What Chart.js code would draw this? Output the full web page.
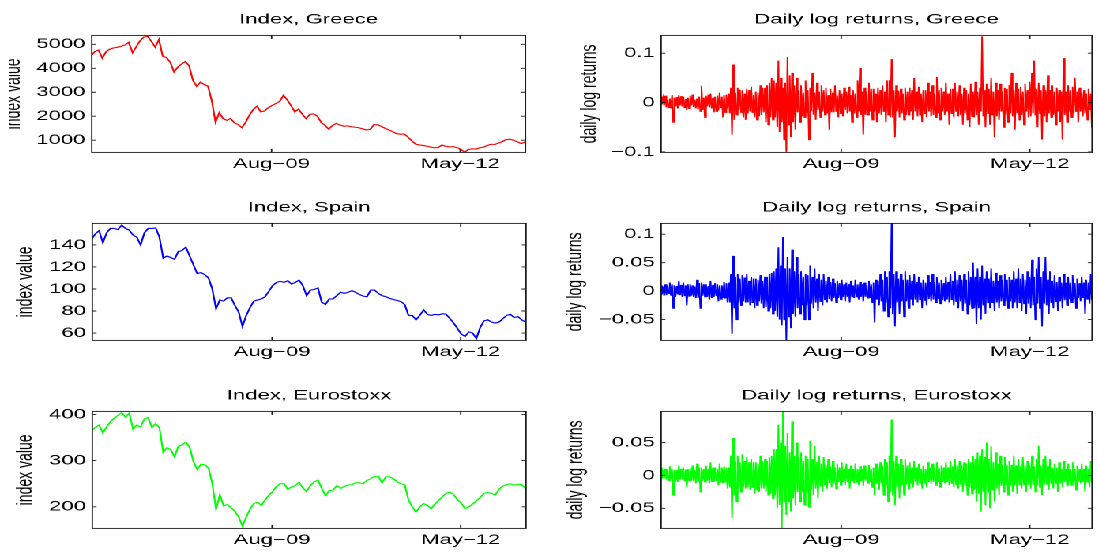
<!DOCTYPE html>
<html>
<head>
<meta charset="utf-8">
<script src="https://cdn.jsdelivr.net/npm/chart.js@4.4.0/dist/chart.umd.min.js"></script>
<style>
    html, body { margin: 0; padding: 0; background: #fff; overflow: hidden; }
    #wrap { position: relative; width: 694px; height: 554px; transform: scaleX(1.58); transform-origin: 0 0; }
    .panel { position: absolute; }
</style>
</head>
<body>
<div id="wrap"></div>
<script>
// Sampling of the series (days since 1 Jan 2007)
const indexStepDays = 20;
const returnStepDays = 6;

// Date ticks shared by every panel
const tickDays = [957, 1957];
const tickLabels = ['Aug\u221209', 'May\u221212'];

// Index levels
const greeceIndex = [4520, 4700, 4760, 4420, 4700, 4800, 4850, 4880, 4920, 4980,
    5080, 4650, 4900, 5150, 5300, 5330, 5120, 4880, 5200, 4500,
    4450, 4250, 3850, 4050, 4180, 4280, 4100, 3500, 3250, 3420,
    3320, 3250, 2650, 1750, 2150, 1900, 1830, 1900, 1720, 1650,
    1520, 1750, 2050, 2280, 2420, 2180, 2220, 2360, 2450, 2530,
    2620, 2870, 2680, 2450, 2180, 2300, 2080, 1900, 2080, 2100,
    2000, 1740, 1620, 1460, 1620, 1700, 1630, 1580, 1600, 1560,
    1540, 1520, 1470, 1430, 1450, 1650, 1640, 1570, 1490, 1420,
    1350, 1270, 1250, 1260, 1130, 980, 840, 800, 780, 750,
    710, 680, 690, 800, 740, 720, 730, 690, 620, 500,
    610, 640, 630, 680, 710, 780, 830, 820, 880, 940,
    1020, 1040, 1000, 930, 860, 920];

const spainIndex = [145.4, 150, 153, 142, 151, 155, 155, 154, 158, 155,
    153.5, 149, 147, 140, 151, 155, 155, 155.5, 147, 128,
    130, 128.5, 127, 134, 135, 138, 130, 122, 114, 115,
    113, 110, 100, 82, 90, 89, 92, 92, 85, 79,
    66, 76, 83, 89, 90, 91, 93, 98, 103, 106,
    107, 106, 107.5, 104.5, 106, 108, 103, 94, 99, 99.5,
    101, 88, 86, 91, 91, 94, 97, 96, 97, 98.5,
    97, 95, 93.5, 93, 99, 99, 96, 94, 93, 91.5,
    90.5, 89.5, 88.5, 86, 76, 76, 72, 76, 81, 77,
    76, 77, 76.5, 77.5, 77, 73, 69, 64, 59, 57,
    61, 60, 55, 65, 71, 72, 70, 69, 70, 73,
    76, 77, 74, 75, 72, 70];

const euroIndex = [365, 372, 377, 360, 373, 384, 392, 398, 404, 394,
    403, 368, 377, 373, 390, 393, 372, 380, 371, 318,
    328, 324, 308, 331, 334, 340, 329, 298, 281, 292,
    291, 284, 250, 195, 226, 202, 205, 198, 190, 178,
    158, 178, 195, 207, 210, 203, 215, 225, 233, 244,
    250, 250, 238, 243, 246, 253, 241, 233, 246, 254,
    258, 240, 224, 235, 236, 246, 240, 244, 247, 248,
    252, 252, 250, 257, 261, 266, 266, 252, 265, 265,
    261, 254, 250, 248, 215, 200, 189, 200, 207, 203,
    196, 206, 214, 222, 229, 232, 226, 215, 208, 196,
    200, 206, 213, 220, 229, 231, 229, 226, 238, 245,
    248, 250, 247, 249, 248, 240];

// Daily log returns (every 6th day)
const greeceReturns = [
    0.012, -0.004, 0.009, -0.006, 0.014, -0.010, 0.006, -0.010, 0.008, -0.012, 0.015, -0.040, 0.010, -0.008, 0.011, -0.012, 0.015, -0.006, 0.013, -0.008,
    0.012, -0.010, 0.007, -0.015, 0.010, -0.012, 0.014, -0.006, 0.016, -0.009, 0.006, -0.012, 0.008, -0.014, 0.012, -0.018, 0.034, -0.015, 0.010, -0.030,
    0.014, -0.008, 0.016, -0.010, 0.018, -0.012, 0.010, -0.020, 0.012, -0.018, 0.014, -0.016, 0.020, -0.010, 0.012, -0.030, 0.015, -0.020, 0.016, -0.012,
    0.018, -0.022, 0.030, -0.065, 0.077, -0.035, 0.020, -0.025, 0.030, -0.015, 0.026, -0.020, 0.025, -0.030, 0.018, -0.035, 0.028, -0.022, 0.025, -0.018,
    0.032, -0.020, 0.015, -0.030, 0.022, -0.035, 0.020, -0.028, 0.035, -0.025, 0.030, -0.020, 0.030, -0.040, 0.035, -0.045, 0.040, -0.030, 0.050, -0.035,
    0.045, -0.030, 0.040, -0.050, 0.085, -0.060, 0.050, -0.040, 0.030, -0.075, 0.040, -0.100, 0.092, -0.045, 0.055, -0.070, 0.060, -0.040, 0.035, -0.055,
    0.050, -0.020, 0.025, -0.040, 0.035, -0.028, 0.020, -0.030, 0.045, -0.022, 0.025, -0.075, 0.030, -0.018, 0.060, -0.025, 0.020, -0.035, 0.040, -0.015,
    0.022, -0.030, 0.035, -0.018, 0.025, -0.025, 0.030, -0.022, 0.015, -0.055, 0.028, -0.020, 0.020, -0.020, 0.035, -0.018, 0.014, -0.030, 0.025, -0.022,
    0.018, -0.028, 0.030, -0.015, 0.022, -0.022, 0.032, -0.018, 0.015, -0.040, 0.025, -0.022, 0.018, -0.030, 0.045, -0.018, 0.070, -0.025, 0.022, -0.065,
    0.030, -0.025, 0.022, -0.025, 0.040, -0.018, 0.028, -0.035, 0.028, -0.018, 0.018, -0.040, 0.030, -0.022, 0.025, -0.025, 0.035, -0.018, 0.022, -0.040,
    0.045, -0.025, 0.045, -0.030, 0.088, -0.030, 0.025, -0.070, 0.035, -0.018, 0.024, -0.030, 0.028, -0.022, 0.018, -0.035, 0.030, -0.025, 0.022, -0.025,
    0.030, -0.018, 0.025, -0.035, 0.050, -0.018, 0.022, -0.028, 0.032, -0.025, 0.018, -0.040, 0.025, -0.022, 0.025, -0.030, 0.040, -0.018, 0.022, -0.028,
    0.035, -0.025, 0.018, -0.030, 0.052, -0.022, 0.025, -0.035, 0.030, -0.018, 0.022, -0.025, 0.040, -0.018, 0.018, -0.045, 0.028, -0.022, 0.028, -0.030,
    0.040, -0.018, 0.022, -0.028, 0.035, -0.025, 0.018, -0.045, 0.030, -0.022, 0.025, -0.035, 0.018, -0.050, 0.038, -0.028, 0.022, -0.030, 0.042, -0.025,
    0.022, -0.045, 0.030, -0.018, 0.134, -0.028, 0.025, -0.050, 0.038, -0.022, 0.028, -0.045, 0.050, -0.025, 0.022, -0.070, 0.040, -0.028, 0.025, -0.035,
    0.038, -0.018, 0.022, -0.050, 0.030, -0.025, 0.028, -0.040, 0.035, -0.022, 0.060, -0.028, 0.025, -0.055, 0.040, -0.022, 0.028, -0.035, 0.032, -0.025,
    0.022, -0.045, 0.038, -0.018, 0.025, -0.030, 0.042, -0.028, 0.060, -0.022, 0.085, -0.025, 0.028, -0.050, 0.040, -0.022, 0.025, -0.075, 0.035, -0.028,
    0.025, -0.040, 0.055, -0.022, 0.025, -0.030, 0.035, -0.025, 0.022, -0.045, 0.030, -0.018, 0.025, -0.040, 0.022, -0.075, 0.090, -0.025, 0.022, -0.040,
    0.035, -0.018, 0.025, -0.030, 0.032, -0.022, 0.050, -0.018, 0.022, -0.040, 0.030, -0.018, 0.020, -0.028, 0.025, -0.022, 0.018, -0.035, 0.028, -0.015,
    0.018, -0.050, 0.030, -0.022, 0.055];

const spainReturns = [
    0.010, -0.006, 0.008, -0.008, 0.012, -0.007, 0.010, -0.004, 0.015, -0.008, 0.012, -0.030, 0.010, -0.010, 0.009, -0.006, 0.018, -0.007, 0.011, -0.010,
    0.015, -0.008, 0.010, -0.025, 0.012, -0.009, 0.012, -0.008, 0.010, -0.010, 0.008, -0.012, 0.020, -0.012, 0.014, -0.030, 0.015, -0.008, 0.012, -0.010,
    0.012, -0.010, 0.009, -0.015, 0.018, -0.012, 0.011, -0.010, 0.014, -0.008, 0.012, -0.018, 0.010, -0.014, 0.010, -0.012, 0.016, -0.012, 0.014, -0.020,
    0.015, -0.020, 0.030, -0.075, 0.062, -0.030, 0.025, -0.050, 0.030, -0.020, 0.022, -0.025, 0.028, -0.018, 0.024, -0.020, 0.030, -0.020, 0.018, -0.025,
    0.025, -0.020, 0.022, -0.030, 0.022, -0.025, 0.020, -0.018, 0.028, -0.022, 0.018, -0.030, 0.025, -0.028, 0.025, -0.035, 0.030, -0.030, 0.032, -0.040,
    0.035, -0.035, 0.040, -0.045, 0.077, -0.050, 0.045, -0.060, 0.095, -0.050, 0.040, -0.087, 0.060, -0.045, 0.040, -0.065, 0.073, -0.040, 0.035, -0.045,
    0.060, -0.030, 0.030, -0.040, 0.035, -0.025, 0.025, -0.050, 0.030, -0.025, 0.028, -0.050, 0.045, -0.022, 0.025, -0.030, 0.040, -0.020, 0.022, -0.035,
    0.030, -0.018, 0.020, -0.025, 0.030, -0.015, 0.018, -0.020, 0.025, -0.014, 0.016, -0.018, 0.022, -0.012, 0.014, -0.020, 0.018, -0.012, 0.014, -0.015,
    0.020, -0.010, 0.012, -0.018, 0.015, -0.010, 0.012, -0.020, 0.018, -0.010, 0.010, -0.012, 0.020, -0.010, 0.012, -0.015, 0.016, -0.010, 0.012, -0.018,
    0.015, -0.010, 0.010, -0.012, 0.018, -0.012, 0.012, -0.020, 0.015, -0.055, 0.020, -0.015, 0.018, -0.025, 0.030, -0.018, 0.020, -0.035, 0.035, -0.020,
    0.025, -0.045, 0.035, -0.030, 0.120, -0.040, 0.030, -0.062, 0.035, -0.020, 0.022, -0.040, 0.030, -0.018, 0.020, -0.045, 0.035, -0.018, 0.020, -0.030,
    0.028, -0.015, 0.018, -0.025, 0.030, -0.015, 0.016, -0.020, 0.025, -0.015, 0.015, -0.030, 0.020, -0.016, 0.015, -0.025, 0.028, -0.014, 0.016, -0.018,
    0.030, -0.015, 0.016, -0.020, 0.025, -0.014, 0.015, -0.022, 0.020, -0.016, 0.014, -0.018, 0.025, -0.015, 0.016, -0.020, 0.030, -0.015, 0.018, -0.025,
    0.035, -0.018, 0.020, -0.030, 0.028, -0.018, 0.020, -0.035, 0.030, -0.022, 0.020, -0.040, 0.035, -0.025, 0.025, -0.030, 0.050, -0.030, 0.025, -0.058,
    0.040, -0.030, 0.025, -0.050, 0.045, -0.025, 0.022, -0.040, 0.035, -0.020, 0.022, -0.030, 0.040, -0.020, 0.018, -0.035, 0.032, -0.020, 0.018, -0.030,
    0.028, -0.018, 0.020, -0.025, 0.030, -0.018, 0.020, -0.030, 0.025, -0.018, 0.020, -0.030, 0.035, -0.020, 0.022, -0.030, 0.040, -0.020, 0.022, -0.035,
    0.030, -0.022, 0.020, -0.040, 0.035, -0.022, 0.025, -0.030, 0.055, -0.025, 0.025, -0.050, 0.040, -0.022, 0.060, -0.030, 0.025, -0.062, 0.035, -0.022,
    0.060, -0.025, 0.020, -0.040, 0.035, -0.020, 0.018, -0.030, 0.028, -0.018, 0.016, -0.035, 0.025, -0.018, 0.015, -0.030, 0.030, -0.016, 0.015, -0.025,
    0.025, -0.014, 0.015, -0.020, 0.028, -0.015, 0.014, -0.030, 0.022, -0.012, 0.014, -0.018, 0.025, -0.012, 0.015, -0.040, 0.020, -0.014, 0.015, -0.022,
    0.030, -0.015, 0.018, -0.025, 0.035];

const euroReturns = [
    0.012, -0.005, 0.008, -0.005, 0.010, -0.006, 0.009, -0.008, 0.014, -0.006, 0.010, -0.030, 0.008, -0.009, 0.008, -0.010, 0.015, -0.006, 0.010, -0.006,
    0.012, -0.008, 0.009, -0.018, 0.010, -0.008, 0.011, -0.008, 0.015, -0.008, 0.008, -0.012, 0.018, -0.010, 0.012, -0.025, 0.012, -0.008, 0.010, -0.010,
    0.015, -0.008, 0.010, -0.012, 0.020, -0.010, 0.012, -0.010, 0.012, -0.008, 0.010, -0.015, 0.018, -0.010, 0.012, -0.012, 0.014, -0.010, 0.012, -0.020,
    0.012, -0.018, 0.030, -0.065, 0.057, -0.030, 0.022, -0.040, 0.030, -0.018, 0.020, -0.025, 0.032, -0.018, 0.022, -0.020, 0.028, -0.018, 0.020, -0.022,
    0.025, -0.018, 0.020, -0.028, 0.020, -0.022, 0.018, -0.025, 0.030, -0.020, 0.022, -0.020, 0.025, -0.025, 0.022, -0.030, 0.028, -0.028, 0.030, -0.035,
    0.040, -0.030, 0.040, -0.050, 0.077, -0.045, 0.050, -0.081, 0.097, -0.040, 0.045, -0.060, 0.065, -0.040, 0.035, -0.055, 0.082, -0.035, 0.030, -0.045,
    0.050, -0.025, 0.028, -0.040, 0.035, -0.025, 0.022, -0.045, 0.030, -0.028, 0.025, -0.048, 0.053, -0.022, 0.025, -0.030, 0.045, -0.020, 0.020, -0.035,
    0.030, -0.016, 0.018, -0.025, 0.028, -0.014, 0.016, -0.020, 0.025, -0.012, 0.014, -0.018, 0.022, -0.012, 0.012, -0.020, 0.018, -0.010, 0.012, -0.015,
    0.020, -0.010, 0.010, -0.015, 0.018, -0.010, 0.010, -0.020, 0.015, -0.008, 0.010, -0.012, 0.018, -0.010, 0.010, -0.015, 0.014, -0.009, 0.010, -0.016,
    0.015, -0.008, 0.010, -0.012, 0.016, -0.010, 0.010, -0.018, 0.012, -0.030, 0.018, -0.012, 0.014, -0.022, 0.020, -0.012, 0.015, -0.030, 0.025, -0.015,
    0.020, -0.040, 0.030, -0.025, 0.085, -0.030, 0.022, -0.045, 0.030, -0.018, 0.018, -0.035, 0.025, -0.015, 0.016, -0.030, 0.025, -0.014, 0.015, -0.020,
    0.020, -0.012, 0.012, -0.018, 0.022, -0.010, 0.012, -0.015, 0.018, -0.012, 0.010, -0.020, 0.015, -0.012, 0.010, -0.018, 0.020, -0.010, 0.012, -0.012,
    0.018, -0.010, 0.012, -0.015, 0.020, -0.010, 0.012, -0.018, 0.015, -0.010, 0.012, -0.012, 0.020, -0.010, 0.012, -0.015, 0.022, -0.012, 0.014, -0.018,
    0.025, -0.014, 0.015, -0.020, 0.022, -0.014, 0.016, -0.025, 0.020, -0.016, 0.018, -0.030, 0.025, -0.018, 0.020, -0.028, 0.030, -0.022, 0.025, -0.040,
    0.035, -0.028, 0.030, -0.055, 0.040, -0.025, 0.028, -0.045, 0.050, -0.025, 0.025, -0.050, 0.045, -0.022, 0.020, -0.040, 0.035, -0.020, 0.018, -0.030,
    0.030, -0.016, 0.016, -0.025, 0.028, -0.015, 0.016, -0.030, 0.022, -0.015, 0.016, -0.025, 0.030, -0.015, 0.015, -0.028, 0.025, -0.014, 0.014, -0.020,
    0.028, -0.014, 0.015, -0.025, 0.022, -0.014, 0.015, -0.020, 0.030, -0.015, 0.014, -0.025, 0.025, -0.015, 0.045, -0.018, 0.015, -0.030, 0.025, -0.014,
    0.030, -0.014, 0.014, -0.022, 0.025, -0.012, 0.012, -0.020, 0.018, -0.012, 0.012, -0.025, 0.020, -0.012, 0.010, -0.018, 0.022, -0.010, 0.010, -0.015,
    0.018, -0.010, 0.010, -0.015, 0.020, -0.010, 0.010, -0.022, 0.015, -0.010, 0.010, -0.012, 0.018, -0.010, 0.010, -0.025, 0.015, -0.010, 0.010, -0.018,
    0.022, -0.010, 0.012, -0.015, 0.027];

// Y tick values
const greeceIndexTicks = [1000, 2000, 3000, 4000, 5000];
const spainIndexTicks = [60, 80, 100, 120, 140];
const euroIndexTicks = [200, 300, 400];
const greeceReturnTicks = [-0.1, 0, 0.1];
const spainReturnTicks = [-0.05, 0, 0.05, 0.1];
const euroReturnTicks = [-0.05, 0, 0.05];

// Layout (reference pixels); the whole figure is stretched horizontally by S
const S = 1.58;
const TITLE_BLOCK = 27.4;
const PLOT_H = 117;
const XAXIS_H = 30.6;

Chart.defaults.font.family = '"Liberation Sans", Arial, Helvetica, sans-serif';
Chart.defaults.font.size = 14;
Chart.defaults.color = '#000';

// MATLAB style box with inward ticks on all four sides
const boxPlugin = {
    id: 'matlabBox',
    afterDraw(chart) {
        const { ctx, chartArea: a, scales } = chart;
        ctx.save();
        ctx.strokeStyle = '#1a1a1a';
        ctx.lineWidth = 0.9;
        ctx.strokeRect(a.left, a.top, a.right - a.left, a.bottom - a.top);
        ctx.beginPath();
        scales.y.ticks.forEach(t => {
            const py = scales.y.getPixelForValue(t.value);
            ctx.moveTo(a.left, py); ctx.lineTo(a.left + 2.7, py);
            ctx.moveTo(a.right, py); ctx.lineTo(a.right - 2.7, py);
        });
        scales.x.ticks.forEach(t => {
            const px = scales.x.getPixelForValue(t.value);
            ctx.moveTo(px, a.bottom); ctx.lineTo(px, a.bottom - 3.5);
            ctx.moveTo(px, a.top); ctx.lineTo(px, a.top + 3.5);
        });
        ctx.stroke();
        ctx.restore();
    }
};

function formatTick(v) {
    return String(v).replace('-', '\u2212');
}

function makePanel(p) {
    const wrap = document.getElementById('wrap');
    const cl = p.canvasLeft / S;
    const w = Math.round((p.canvasRight - p.canvasLeft) / S);
    const pl = p.plotLeft / S - cl;
    const pr = p.plotRight / S - cl;
    const h = Math.round(TITLE_BLOCK + PLOT_H + XAXIS_H);

    const div = document.createElement('div');
    div.className = 'panel';
    div.style.left = cl + 'px';
    div.style.top = (p.plotTop - TITLE_BLOCK) + 'px';
    const canvas = document.createElement('canvas');
    canvas.width = w;
    canvas.height = h;
    canvas.style.width = w + 'px';
    canvas.style.height = h + 'px';
    div.appendChild(canvas);
    wrap.appendChild(div);

    const points = p.values.map((v, i) => ({ x: i * p.step, y: v }));

    new Chart(canvas, {
        type: 'line',
        data: {
            datasets: [{
                data: points,
                borderColor: p.color,
                borderWidth: p.lineWidth,
                pointRadius: 0,
                tension: 0,
                fill: false
            }]
        },
        options: {
            responsive: false,
            animation: false,
            devicePixelRatio: 2,
            events: [],
            layout: { padding: { left: 0, right: w - pr, top: 0, bottom: h - TITLE_BLOCK - PLOT_H - XAXIS_H } },
            plugins: {
                legend: { display: false },
                tooltip: { enabled: false },
                title: {
                    display: true,
                    text: p.title,
                    fullSize: false,
                    font: { size: 14, weight: 'normal' },
                    padding: { top: 3, bottom: 7.6 }
                }
            },
            scales: {
                x: {
                    type: 'linear',
                    min: p.xMin,
                    max: p.xMax,
                    grid: { display: false, drawTicks: false },
                    border: { display: false },
                    afterBuildTicks: s => { s.ticks = tickDays.map(v => ({ value: v })); },
                    afterFit: s => { s.height = XAXIS_H; },
                    ticks: {
                        padding: 3.5,
                        maxRotation: 0,
                        autoSkip: false,
                        callback: v => tickLabels[tickDays.indexOf(v)]
                    }
                },
                y: {
                    min: p.yMin,
                    max: p.yMax,
                    grid: { display: false, drawTicks: false },
                    border: { display: false },
                    afterBuildTicks: s => { s.ticks = p.yTicks.map(v => ({ value: v })); },
                    afterFit: s => { s.width = pl; },
                    ticks: { padding: 4, callback: v => formatTick(v) },
                    title: {
                        display: true,
                        text: p.yTitle,
                        font: { size: 14 },
                        padding: { top: p.yTitleX / S - cl - 8.4, bottom: 0 }
                    }
                }
            }
        },
        plugins: [boxPlugin]
    });
}

const leftCol = { canvasLeft: 0, canvasRight: 540, plotLeft: 92.3, plotRight: 526, xMin: 4, xMax: 2303, step: indexStepDays, lineWidth: 1.1 };
const rightCol = { canvasLeft: 560, canvasRight: 1097, plotLeft: 661.8, plotRight: 1092.7, xMin: 2, xMax: 2287, step: returnStepDays, lineWidth: 1 };

makePanel(Object.assign({}, leftCol, {
    canvasLeft: 10, plotTop: 35, title: 'Index, Greece', yTitle: 'index value', yTitleX: 14,
    values: greeceIndex, color: '#ff0000',
    yMin: 490, yMax: 5372, yTicks: greeceIndexTicks
}));
makePanel(Object.assign({}, rightCol, {
    plotTop: 35, title: 'Daily log returns, Greece', yTitle: 'daily log returns', yTitleX: 590,
    values: greeceReturns, color: '#ff0000',
    yMin: -0.101, yMax: 0.136, yTicks: greeceReturnTicks
}));
makePanel(Object.assign({}, leftCol, {
    plotTop: 223, title: 'Index, Spain', yTitle: 'index value', yTitleX: 25.6,
    values: spainIndex, color: '#0000ff',
    yMin: 53.3, yMax: 159.6, yTicks: spainIndexTicks
}));
makePanel(Object.assign({}, rightCol, {
    plotTop: 223, title: 'Daily log returns, Spain', yTitle: 'daily log returns', yTitleX: 576,
    values: spainReturns, color: '#0000ff',
    yMin: -0.0866, yMax: 0.119, yTicks: spainReturnTicks
}));
makePanel(Object.assign({}, leftCol, {
    plotTop: 411, title: 'Index, Eurostoxx', yTitle: 'index value', yTitleX: 25.6,
    values: euroIndex, color: '#00ff00',
    yMin: 153.3, yMax: 406.5, yTicks: euroIndexTicks
}));
makePanel(Object.assign({}, rightCol, {
    plotTop: 411, title: 'Daily log returns, Eurostoxx', yTitle: 'daily log returns', yTitleX: 577,
    values: euroReturns, color: '#00ff00',
    yMin: -0.0806, yMax: 0.0974, yTicks: euroReturnTicks
}));
</script>
</body>
</html>
